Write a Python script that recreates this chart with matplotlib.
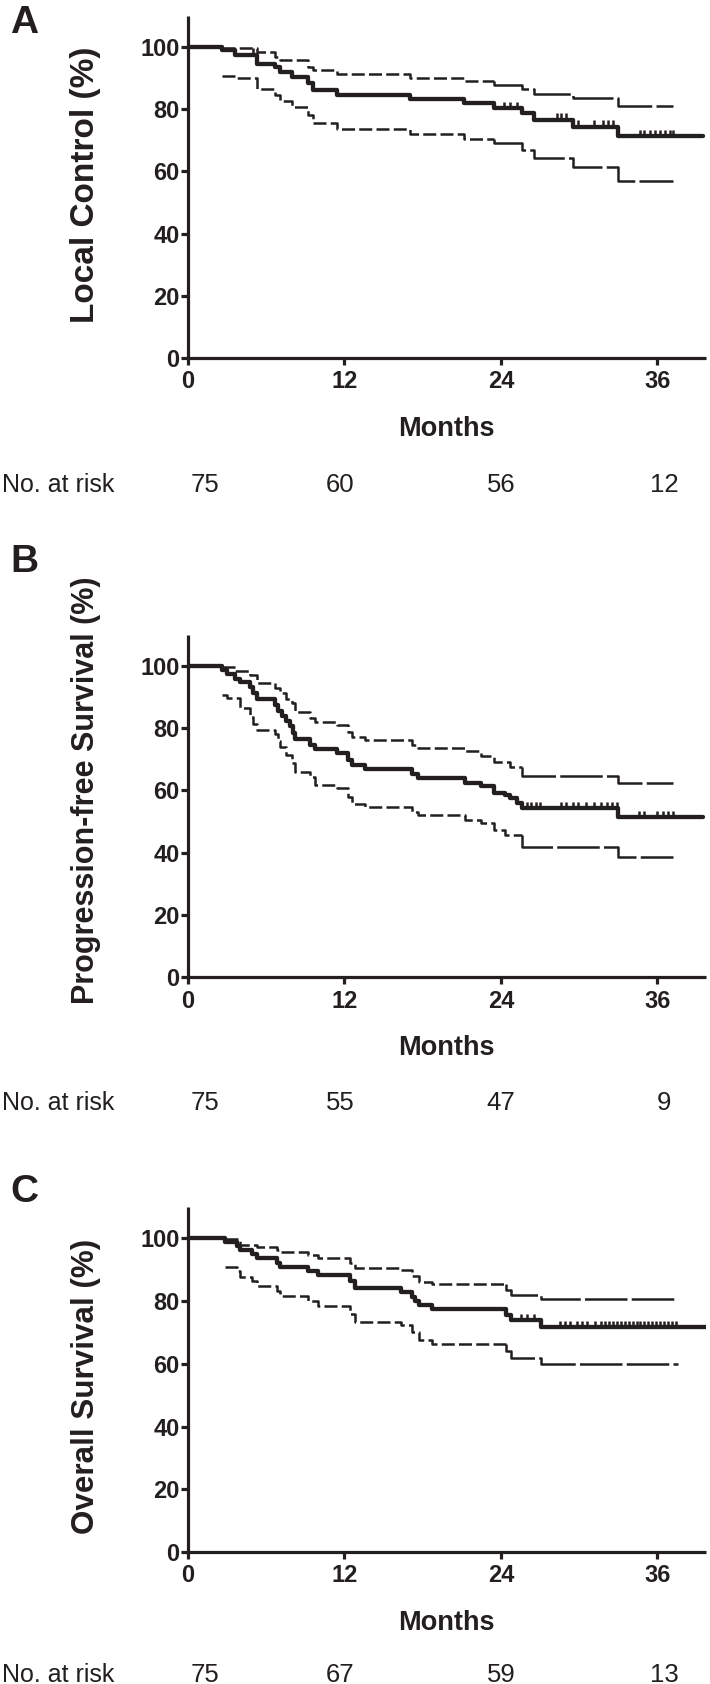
import numpy as np
import matplotlib
matplotlib.use("Agg")
import matplotlib.pyplot as plt

# ---- data (months, percent) ----
# Panel A: local control
a_t = [0, 2.6, 3.6, 5.26, 6.67, 7.05, 7.95, 9.23, 9.6, 11.4, 17.0, 21.2, 23.5, 25.6, 26.5, 29.55, 33.0]
a_s = [100, 99.0, 97.6, 94.7, 93.7, 92.1, 90.5, 88.3, 86.2, 84.6, 83.3, 81.9, 80.3, 78.7, 76.7, 74.4, 71.4]
a_up_t = [2.6, 5.26, 6.67, 7.05, 9.23, 9.6, 11.4, 17.0, 21.2, 23.5, 25.6, 26.5, 29.55, 33.0]
a_up = [99.8, 98.4, 96.9, 95.8, 93.7, 92.6, 91.2, 90.1, 89.0, 87.8, 86.5, 84.9, 83.5, 81.1]
a_lo_t = [2.6, 3.7, 5.26, 6.67, 7.05, 7.95, 9.23, 9.6, 11.4, 17.0, 21.2, 23.5, 25.6, 26.5, 29.55, 33.0]
a_lo = [90.8, 89.9, 86.4, 84.5, 82.8, 80.8, 78.1, 75.5, 73.8, 72.2, 70.4, 69.0, 66.9, 64.4, 61.5, 57.0]
a_cens = [5.0, 24.2, 24.7, 25.2, 28.3, 28.6, 29.0, 29.9, 31.1, 31.85, 32.2, 32.6,
          34.7, 35.0, 35.4, 35.8, 36.2, 36.6, 37.0, 37.2]
a_risk = [75, 60, 56, 12]

# Panel B: progression-free survival
b_t = [0, 2.6, 3.0, 3.6, 4.0, 4.75, 5.0, 5.26, 6.67, 6.9, 7.2, 7.5, 7.8, 8.05, 8.2, 9.36, 9.74,
       11.4, 12.3, 12.55, 13.6, 17.15, 17.66, 21.24, 22.5, 23.5, 24.3, 24.7, 25.2, 25.6, 33.0]
b_s = [100, 98.7, 97.3, 96.0, 95.0, 93.3, 91.2, 89.3, 87.5, 85.5, 83.8, 82.2, 80.6, 78.6, 76.7, 74.6, 73.3,
       71.9, 69.8, 68.2, 66.8, 65.3, 63.9, 62.5, 61.4, 59.3, 58.4, 57.5, 56.0, 54.2, 51.5]
b_up_t = [2.6, 3.6, 4.75, 5.26, 6.67, 7.05, 7.5, 7.95, 8.2, 9.36, 9.74, 11.4, 12.3, 12.55, 13.6,
          17.15, 17.66, 21.24, 22.5, 23.5, 24.7, 25.6, 33.0]
b_up = [99.8, 98.3, 97.1, 94.6, 93.0, 91.5, 89.5, 88.0, 85.3, 83.2, 82.1, 81.0, 78.9, 77.1, 76.2,
        74.6, 73.5, 72.6, 71.1, 69.2, 67.6, 64.6, 62.5]
b_lo_t = [2.6, 2.96, 4.0, 4.75, 5.0, 5.26, 6.67, 6.9, 7.05, 7.5, 7.95, 8.2, 9.36, 9.74, 11.4, 12.3,
          12.55, 13.6, 17.15, 17.66, 21.24, 22.5, 23.5, 24.3, 25.6, 33.0]
b_lo = [90.7, 89.6, 86.4, 83.7, 81.5, 79.4, 78.0, 76.0, 74.0, 71.5, 68.7, 66.0, 64.4, 61.7, 60.7, 58.0,
        55.6, 54.8, 53.2, 52.1, 50.5, 49.4, 47.3, 45.7, 41.9, 38.7]
b_cens = [3.6, 26.0, 26.3, 26.7, 27.0, 28.6, 29.0, 29.5, 29.9, 30.5, 31.1, 31.7, 32.1, 32.5, 32.9,
          34.6, 35.0, 36.0, 36.4, 36.8, 37.2]
b_risk = [75, 55, 47, 9]

# Panel C: overall survival
c_t = [0, 2.84, 3.73, 3.98, 4.88, 5.26, 6.8, 7.05, 9.23, 10.0, 12.4, 12.8, 16.3, 17.15, 17.4, 17.7,
       18.7, 24.4, 24.8, 27.1]
c_s = [100, 99.0, 97.6, 96.3, 95.0, 93.7, 92.3, 91.0, 89.6, 88.3, 86.5, 84.2, 82.9, 81.3, 80.0, 78.7,
       77.4, 75.6, 73.9, 71.7]
c_up_t = [2.84, 3.98, 5.26, 6.8, 7.05, 9.23, 10.0, 12.4, 12.8, 16.3, 17.15, 17.7, 18.7, 24.4, 24.8, 27.1]
c_up = [99.8, 97.9, 97.1, 96.3, 95.8, 94.7, 93.7, 92.2, 90.6, 89.9, 88.0, 86.2, 85.3, 83.6, 81.9, 80.6]
c_lo_t = [2.84, 3.73, 3.98, 4.88, 5.26, 6.8, 7.05, 9.23, 10.0, 12.4, 12.8, 16.3, 17.15, 17.7, 18.7,
          24.4, 24.8, 27.1]
c_lo = [91.0, 89.5, 87.8, 86.3, 84.8, 83.2, 81.6, 80.0, 78.4, 75.8, 73.3, 72.3, 70.0, 67.5, 66.2,
        64.0, 61.7, 59.8]
c_cens = [25.5, 26.0, 26.5, 28.5, 28.9, 29.3, 29.8, 30.2, 30.6, 31.2, 31.7, 32.0, 32.3, 32.6, 32.9,
          33.2, 33.5, 33.8, 34.1, 34.4, 34.7, 35.0, 35.3, 35.6, 35.9, 36.2, 36.5, 36.8, 37.1, 37.4]
c_risk = [75, 67, 59, 13]

risk_labels_x = [205, 340, 501, 664]   # pixel centres of the at-risk numbers

W, H = 710, 1684
INK = "#231f20"
NARROW = ["Liberation Sans Narrow", "Liberation Sans", "DejaVu Sans"]
WIDE = ["Liberation Sans", "DejaVu Sans"]

panels = [
    dict(letter="A", ylabel="Local Control (%)", t=a_t, s=a_s, end=39.5, up_t=a_up_t, up=a_up,
         lo_t=a_lo_t, lo=a_lo, ci_end=37.2, switch=23.5, cens=a_cens, risk=a_risk,
         y0=358, h=342, lab_cy=185, lab_fs=24, letter_y=23, risk_y=485),
    dict(letter="B", ylabel="Progression-free Survival (%)", t=b_t, s=b_s, end=39.5, up_t=b_up_t, up=b_up,
         lo_t=b_lo_t, lo=b_lo, ci_end=37.2, switch=25.6, cens=b_cens, risk=b_risk,
         y0=977, h=342, lab_cy=790, lab_fs=22, letter_y=562, risk_y=1103),
    dict(letter="C", ylabel="Overall Survival (%)", t=c_t, s=c_s, end=39.8, up_t=c_up_t, up=c_up,
         lo_t=c_lo_t, lo=c_lo, ci_end=37.6, switch=24.4, cens=c_cens, risk=c_risk,
         y0=1552, h=345, lab_cy=1386, lab_fs=22.6, letter_y=1192, risk_y=1675),
]


def ci_line(ax, times, vals, end, switch):
    # dashed early part, long-dashed after the switch month
    k = times.index(switch)
    x1 = times[:k] + [times[k]]
    y1 = vals[:k] + [vals[k - 1]]
    x2 = [times[k], times[k]] + times[k + 1:] + [end]
    y2 = [vals[k - 1], vals[k]] + vals[k + 1:] + [vals[-1]]
    ax.step(x1, y1, where="post", color=INK, lw=1.8, linestyle=(0, (5.2, 1.7)),
            dash_capstyle="butt")
    ax.step(x2, y2, where="post", color=INK, lw=1.8, linestyle=(0, (17, 1.7)),
            dash_capstyle="butt")


fig = plt.figure(figsize=(W / 100, H / 100), dpi=100)

x_left = 188
xmax = 39.7
ax_w = xmax * 13.04

for p in panels:
    ax = fig.add_axes([x_left / W, 1 - p["y0"] / H, ax_w / W, p["h"] / H])

    # main KM curve
    tt = p["t"] + [p["end"]]
    ss = p["s"] + [p["s"][-1]]
    ax.step(tt, ss, where="post", color=INK, lw=3.1, solid_capstyle="round", zorder=3)

    # censor marks
    idx = np.searchsorted(p["t"], p["cens"], side="right") - 1
    lev = np.array(p["s"])[idx]
    ax.vlines(p["cens"], lev, lev + 2.0, color=INK, lw=1.8, zorder=3)

    # confidence bands
    ci_line(ax, p["up_t"], p["up"], p["ci_end"], p["switch"])
    ci_line(ax, p["lo_t"], p["lo"], p["ci_end"], p["switch"])

    ax.set_xlim(0, xmax)
    ax.set_ylim(0, 110)
    ax.set_xticks([0, 12, 24, 36])
    ax.set_yticks([0, 20, 40, 60, 80, 100])
    for side in ["top", "right"]:
        ax.spines[side].set_visible(False)
    for side in ["left", "bottom"]:
        ax.spines[side].set_linewidth(2.3)
        ax.spines[side].set_color(INK)
        ax.spines[side].set_capstyle("butt")
    ax.tick_params(axis="both", direction="out", length=5, width=2.3, color=INK,
                   labelcolor=INK)
    ax.tick_params(axis="x", pad=4)
    ax.tick_params(axis="y", pad=1.2)
    for lab in ax.get_xticklabels() + ax.get_yticklabels():
        lab.set_fontfamily(NARROW)
        lab.set_fontweight("bold")
        lab.set_fontsize(17)
    ax.patch.set_visible(False)

    # axis titles
    fig.text(86 / W, 1 - p["lab_cy"] / H, p["ylabel"], rotation=90, ha="center", va="center",
             fontsize=p["lab_fs"], fontweight="bold", family=WIDE, color=INK)
    fig.text((x_left + ax_w / 2) / W, 1 - (p["y0"] + 71) / H, "Months", ha="center", va="center",
             fontsize=19.5, fontweight="bold", family=WIDE, color=INK)
    fig.text(24 / W, 1 - p["letter_y"] / H, p["letter"], ha="center", va="center",
             fontsize=28, fontweight="bold", family=WIDE, color=INK)

    # numbers at risk
    fig.text(2 / W, 1 - p["risk_y"] / H, "No. at risk", ha="left", va="center",
             fontsize=18, family=NARROW, color=INK)
    for xp, n in zip(risk_labels_x, p["risk"]):
        fig.text(xp / W, 1 - p["risk_y"] / H, str(n), ha="center", va="center",
                 fontsize=18.5, family=NARROW, color=INK)

fig.savefig("out.png", dpi=100, facecolor="white")
